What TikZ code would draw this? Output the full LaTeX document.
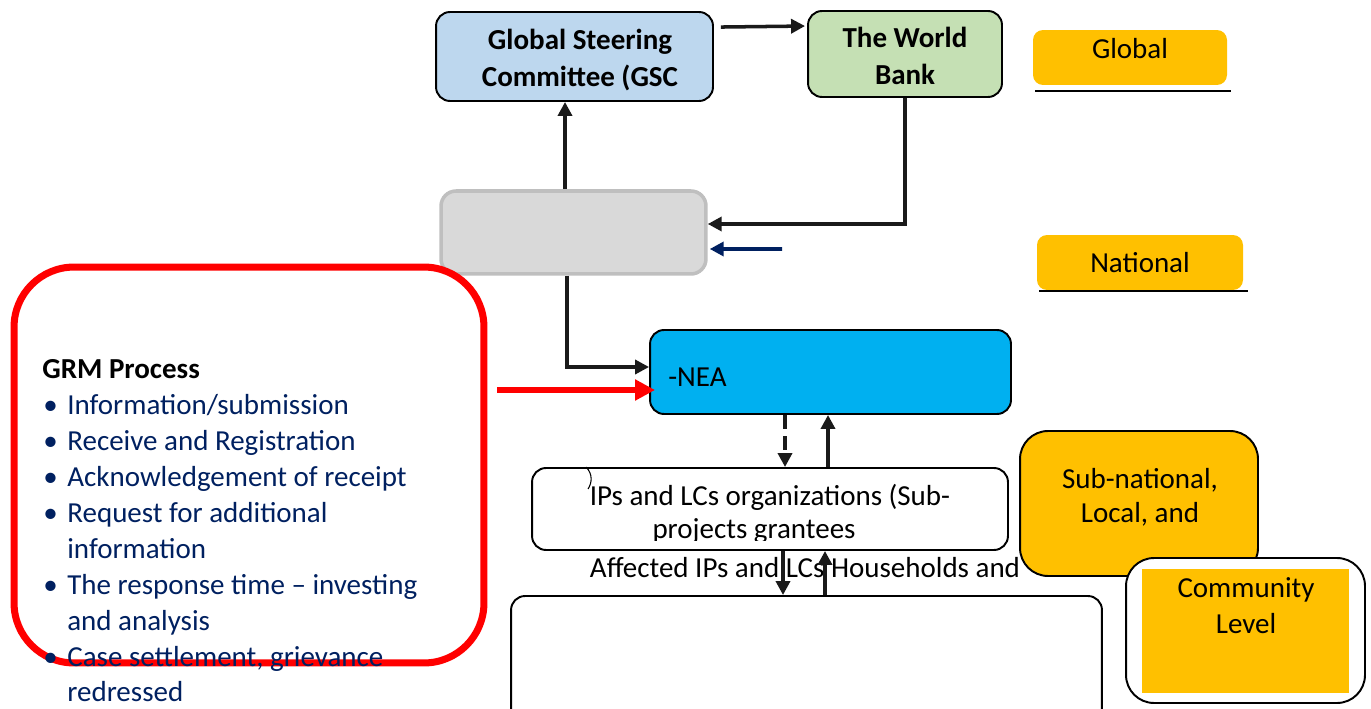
\documentclass[tikz,border=0pt]{standalone}
\usepackage{fontspec}
\setmainfont{Carlito}
\usetikzlibrary{arrows.meta,calc}
\definecolor{gscblue}{HTML}{BDD7EE}
\definecolor{wbgreen}{HTML}{C5E0B4}
\definecolor{lvlorange}{HTML}{FFC000}
\definecolor{greyfill}{HTML}{D9D9D9}
\definecolor{greyedge}{HTML}{BFBFBF}
\definecolor{neablue}{HTML}{00B0F0}
\definecolor{navytext}{HTML}{002060}
\definecolor{arrowdark}{HTML}{1A1A1A}
\begin{document}
\begin{tikzpicture}[x=0.02cm,y=-0.02cm,
  every node/.style={font=\fontsize{16.5}{20.4}\selectfont, inner sep=0pt},
  box/.style={draw=black, line width=1.1pt, rounded corners=0.28cm},
  lvl/.style={fill=lvlorange, rounded corners=0.2cm},
  lbl/.style={anchor=base},
  blbl/.style={anchor=base, font=\fontsize{16.5}{20.4}\selectfont\bfseries},
  arr/.style={draw=arrowdark, line width=2pt, -{Triangle[length=0.28cm,width=0.28cm]}},
  navyarr/.style={draw=navytext, line width=2pt, -{Triangle[length=0.28cm,width=0.28cm]}},
  redarr/.style={draw=red, line width=3.3pt, -{Triangle[length=0.4cm,width=0.4cm]}},
  grmline/.style={anchor=base west, text=navytext},
  uline/.style={line width=1.5pt, draw=black}
]
\useasboundingbox (0,0) rectangle (1371,709);
\clip (0,0) rectangle (1371,709);

% level labels
\node[lvl, minimum width=3.88cm, minimum height=1.10cm] (glob) at (1130,57.5) {};
\node[lbl] at (1130,59) {Global};
\draw[uline] (1035,91) -- (1231,91);
\node[lvl, minimum width=4.12cm, minimum height=1.10cm] (natl) at (1140,262.5) {};
\node[lbl] at (1140,273) {National};
\draw[uline] (1039,291) -- (1248,291);

% top boxes
\node[box, fill=gscblue, minimum width=5.54cm, minimum height=1.78cm] (gsc) at (574.5,56.5) {};
\node[blbl] at (580,50) {Global Steering};
\node[blbl] at (580,87) {Committee (GSC};
\node[box, fill=wbgreen, minimum width=3.88cm, minimum height=1.72cm] (wb) at (905,54) {};
\node[blbl] at (905,48) {The World};
\node[blbl] at (905,85) {Bank};

% grey box
\node[draw=greyedge, line width=2pt, fill=greyfill, rounded corners=0.3cm, minimum width=5.30cm, minimum height=1.66cm] (grey) at (573.5,232.5) {};

% NEA
\node[box, fill=neablue, minimum width=7.22cm, minimum height=1.68cm] (nea) at (830.5,372) {};
\node[anchor=base west] at (668,386) {-NEA};

% IPs organisations
\node[box, fill=white, minimum width=9.52cm, minimum height=1.64cm] (ipc) at (770,509) {};
\draw[line width=0.6pt] (586,467) .. controls (593,474) and (592,483) .. (588,489);
\node[lbl] at (770,505) {IPs and LCs organizations (Sub-};
\begin{scope}
  \clip (532,468) rectangle (1008,540);
  \node[lbl] at (754,538) {projects grantees};
\end{scope}

% bottom box
\node[box, fill=white, minimum width=11.82cm, minimum height=2.68cm] (bot) at (806.5,663) {};
\node[lbl] at (805,577) {Affected IPs and LCs Households and};

% sub-national and community
\node[box, fill=lvlorange, rounded corners=0.56cm, minimum width=4.76cm, minimum height=2.90cm] (subn) at (1139,503.5) {};
\node[lbl] at (1140,488) {Sub-national,};
\node[lbl] at (1140,522) {Local, and};
\node[box, fill=white, rounded corners=0.56cm, minimum width=4.78cm, minimum height=2.90cm] (commw) at (1245.5,630.5) {};
\node[fill=lvlorange, minimum width=4.14cm, minimum height=2.48cm] (comm) at (1245.5,631) {};
\node[lbl] at (1246,597) {Community};
\node[lbl] at (1246,633) {Level};

% connectors
\draw[arr] ($(gsc.north east)+(7,16)$) -- ($(wb.north west)+(-2,16)$);
\draw[arr] ([xshift=-0.17cm]grey.north) -- ([xshift=-0.17cm]grey.north |- gsc.south);
\draw[arr] (wb.south) |- ([yshift=0.17cm]grey.east);
\coordinate (navyfree) at (782,249);
\draw[navyarr] (navyfree) -- ($(grey.east)+(2,16.5)$);
\draw[arr] ([xshift=-0.13cm]grey.south) |- ([yshift=0.1cm]nea.west);
\draw[arr, dash pattern=on 8pt off 4pt] ([xshift=-0.91cm]nea.south) -- ([xshift=-0.91cm]nea.south |- ipc.north);
\draw[arr] ([xshift=-0.05cm]nea.south |- ipc.north) -- ([xshift=-0.05cm]nea.south);
\draw[arr] ([xshift=0.26cm]ipc.south) -- ([xshift=0.26cm]ipc.south |- bot.north);
\draw[arr] ([xshift=1.1cm]ipc.south |- bot.north) -- ([xshift=1.1cm]ipc.south);

% GRM box
\node[draw=red, line width=4pt, rounded corners=1.2cm, minimum width=9.4cm, minimum height=7.92cm] (grm) at (249,465) {};
\coordinate (redfree) at (497,390);
\draw[redarr] (redfree) -- ($(nea.west)+(6,18)$);
\node[anchor=base west, font=\fontsize{16.5}{20.4}\selectfont\bfseries] (grmt) at (42,378) {GRM Process};
\foreach \yy/\bul/\txt in {414/1/{Information/submission}, 450/1/{Receive and Registration}, 486/1/{Acknowledgement of receipt}, 522/1/{Request for additional}, 558/0/{information}, 594/1/{The response time – investing}, 630/0/{and analysis}, 666/1/{Case settlement, grievance}, 701/0/{redressed}}{
  \ifnum\bul=1 \node[grmline] at (43,\yy) {•}; \fi
  \node[grmline] at (67,\yy) {\txt};
}
\end{tikzpicture}
\end{document}
